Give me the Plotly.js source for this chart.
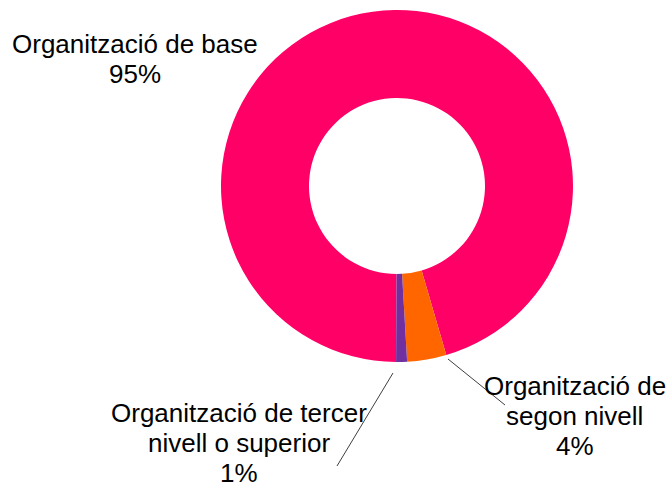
<!DOCTYPE html>
<html>
<head>
<meta charset="utf-8">
<script src="https://cdn.plot.ly/plotly-3.0.1.min.js"></script>
<style>html,body{margin:0;padding:0;background:#fff;}#chart{width:669px;height:489px;}</style>
</head>
<body>
<div id="chart"></div>
<script>
// Data
const categories = ["Organització de base", "Organització de segon nivell", "Organització de tercer nivell o superior"];
const values = [95.4, 3.6, 1.0];
const colors = ["#FF0066", "#FF6600", "#7030A0"];
// label line breaks (text as shown in chart)
const labelLines = [
  ["Organització de base"],
  ["Organització de", "segon nivell"],
  ["Organització de tercer", "nivell o superior"]
];

const W = 669, H = 489;
// label layout (pixel) : centre x, first baseline y
const labelPos = [[134.5, 53], [574.5, 395], [239, 422]];
const lineStep = 30;
const fontSize = 26;

const total = values.reduce((a, b) => a + b, 0);
const annotations = [];
labelLines.forEach((lines, i) => {
  const pct = Math.round(values[i] / total * 100) + "%";
  const all = lines.concat([pct]);
  all.forEach((t, j) => {
    const base = labelPos[i][1] + j * lineStep;
    annotations.push({
      text: t, showarrow: false, xref: "paper", yref: "paper",
      x: labelPos[i][0] / W, y: 1 - (base - 9) / H,
      xanchor: "center", yanchor: "middle",
      font: {family: "Liberation Sans, Arial, sans-serif", size: fontSize, color: "#000"}
    });
  });
});

const leaders = [
  [[448, 359], [505, 405]],
  [[393, 373], [337, 466]]
];
const shapes = leaders.map(l => ({
  type: "line", xref: "paper", yref: "paper",
  x0: l[0][0] / W, y0: 1 - l[0][1] / H, x1: l[1][0] / W, y1: 1 - l[1][1] / H,
  line: {color: "#404040", width: 1}
}));

// pie geometry
const cx = 397, cy = 186, R = 176;
const trace = {
  type: "pie",
  labels: categories,
  values: values,
  marker: {colors: colors, line: {width: 0}},
  hole: 0.5,
  sort: false,
  direction: "clockwise",
  rotation: 180.3,
  textinfo: "none",
  hoverinfo: "label+percent",
  showlegend: false,
  domain: {x: [(cx - R) / W, (cx + R) / W], y: [1 - (cy + R) / H, 1 - (cy - R) / H]}
};

Plotly.newPlot("chart", [trace], {
  width: W, height: H,
  margin: {l: 0, r: 0, t: 0, b: 0},
  paper_bgcolor: "#fff",
  showlegend: false,
  annotations: annotations,
  shapes: shapes
}, {displayModeBar: false, staticPlot: true});
</script>
</body>
</html>
